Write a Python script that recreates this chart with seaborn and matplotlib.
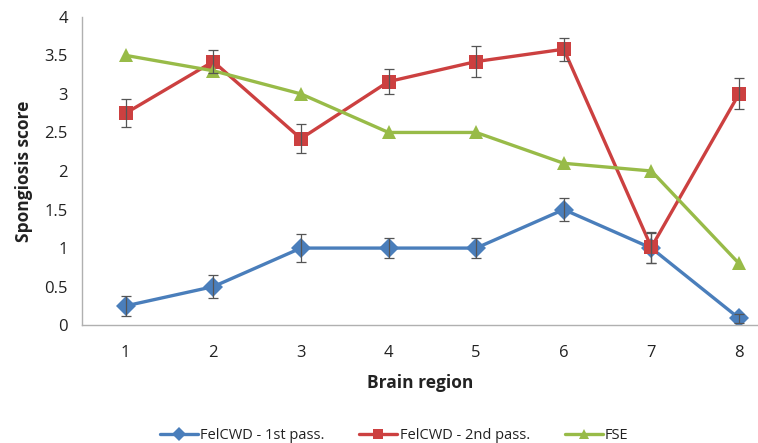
import pandas as pd
import matplotlib.pyplot as plt
import seaborn as sns

# === DATA ===
REGIONS = [1, 2, 3, 4, 5, 6, 7, 8]
SERIES = ['FelCWD - 1st pass.', 'FelCWD - 2nd pass.', 'FSE']
FIRST_PASS = [0.25, 0.5, 1.0, 1.0, 1.0, 1.5, 1.0, 0.09]
FIRST_ERR = [0.13, 0.15, 0.18, 0.13, 0.13, 0.15, 0.2, 0.06]
SECOND_PASS = [2.75, 3.42, 2.42, 3.16, 3.42, 3.58, 1.01, 3.0]
SECOND_ERR = [0.18, 0.15, 0.19, 0.16, 0.2, 0.15, 0.2, 0.2]
FSE = [3.5, 3.3, 3.0, 2.5, 2.5, 2.1, 2.0, 0.8]
Y_TICKS = [0, 0.5, 1, 1.5, 2, 2.5, 3, 3.5, 4]

# === STYLE ===
COLORS = {'FelCWD - 1st pass.': '#4a7ebb',
          'FelCWD - 2nd pass.': '#cc4040',
          'FSE': '#98bb48'}
MARKERS = {'FelCWD - 1st pass.': 'D',
           'FelCWD - 2nd pass.': 's',
           'FSE': '^'}
AXIS_GREY = '#b0b0b0'
TEXT_COLOR = '#222222'

sns.set_style('white')
plt.rcParams['font.family'] = ['Open Sans', 'DejaVu Sans']

df = pd.DataFrame({
    'region': REGIONS * 3,
    'score': FIRST_PASS + SECOND_PASS + FSE,
    'series': [SERIES[0]] * 8 + [SERIES[1]] * 8 + [SERIES[2]] * 8,
})

fig = plt.figure(figsize=(7.58, 4.43), dpi=100)
ax = fig.add_axes([0.108, 0.266, 0.892, 0.696])

sns.lineplot(data=df, x='region', y='score', hue='series', style='series',
             hue_order=SERIES, style_order=SERIES,
             palette=COLORS, markers=MARKERS, dashes=False,
             linewidth=2.4, markersize=10, markeredgewidth=0, ax=ax)

# error bars (only the two FelCWD series have them)
ax.errorbar(REGIONS, FIRST_PASS, yerr=FIRST_ERR, fmt='none',
            ecolor='#555555', elinewidth=0.9, capsize=3.5, capthick=0.9, zorder=5)
ax.errorbar(REGIONS, SECOND_PASS, yerr=SECOND_ERR, fmt='none',
            ecolor='#555555', elinewidth=0.9, capsize=3.5, capthick=0.9, zorder=5)

ax.set_xlim(0.5, 0.5 + 676 / 87.6)
ax.set_ylim(0, 4)
ax.set_xticks(REGIONS)
ax.set_yticks(Y_TICKS)
ax.set_yticklabels(['0', '0.5', '1', '1.5', '2', '2.5', '3', '3.5', '4'])
ax.tick_params(axis='both', length=0, labelsize=12, colors=TEXT_COLOR, pad=10)
ax.tick_params(axis='x', pad=14)

ax.set_xlabel('Brain region', fontsize=12.5, fontweight='bold', color=TEXT_COLOR, labelpad=10)
ax.set_ylabel('Spongiosis score', fontsize=12.5, fontweight='bold', color=TEXT_COLOR, labelpad=8)

for side in ['top', 'right']:
    ax.spines[side].set_visible(False)
for side in ['left', 'bottom']:
    ax.spines[side].set_color(AXIS_GREY)
    ax.spines[side].set_linewidth(1.0)

ax.get_legend().remove()
handles, labels = ax.get_legend_handles_labels()
for h in handles:
    h.set_markersize(7)
fig.legend(handles, labels, loc='lower center', bbox_to_anchor=(0.52, -0.03),
           ncol=3, frameon=False, fontsize=10.5, handlelength=2.6,
           columnspacing=2.4, handletextpad=0.15, labelcolor=TEXT_COLOR)

fig.savefig('out.png', dpi=100)
